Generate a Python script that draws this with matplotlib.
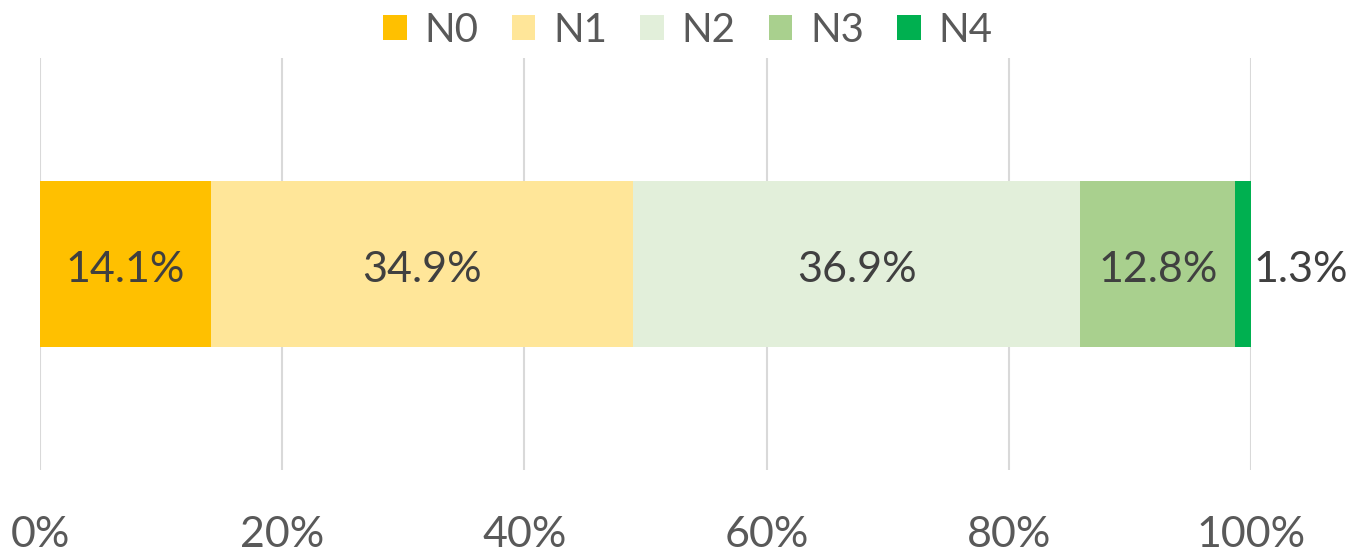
import matplotlib.pyplot as plt
from matplotlib.patches import Patch

categories = ['N0', 'N1', 'N2', 'N3', 'N4']
values = [14.1, 34.9, 36.9, 12.8, 1.3]
colors = ['#FFC000', '#FFE699', '#E2EFDA', '#A9D08E', '#00B050']
ticks = [0, 20, 40, 60, 80, 100]
tick_labels = ['0%', '20%', '40%', '60%', '80%', '100%']

plt.rcParams['font.family'] = ['Lato', 'DejaVu Sans']

fig = plt.figure(figsize=(13.5, 5.52), dpi=100)
ax = fig.add_axes([40 / 1350, 1 - 470 / 552, 1211 / 1350, 412 / 552])

left = 0
for name, v, c in zip(categories, values, colors):
    ax.barh(0, v, left=left, height=0.403, color=c, label=name, zorder=2)
    if v > 5:
        ax.text(left + v / 2, -0.015, f'{v}%', ha='center', va='center',
                fontsize=31, color='#404040')
    else:
        ax.text(left + v + 0.2, -0.015, f'{v}%', ha='left', va='center',
                fontsize=31, color='#404040')
    left += v

ax.set_xlim(0, 100)
ax.set_ylim(-0.5, 0.5)
ax.set_xticks(ticks)
ax.set_xticklabels(tick_labels, fontsize=31, color='#595959')
ax.tick_params(axis='x', length=0, pad=33)
ax.set_yticks([])
ax.grid(axis='x', color='#D9D9D9', linewidth=1.5, zorder=0)
for s in ax.spines.values():
    s.set_visible(False)

handles = [Patch(facecolor=c, label=n) for n, c in zip(categories, colors)]
fig.legend(handles=handles, loc='center', bbox_to_anchor=(688 / 1350, 1 - 30 / 552),
           ncol=5, frameon=False, fontsize=29, labelcolor='#595959',
           handlelength=0.58, handleheight=0.58, handletextpad=0.45,
           columnspacing=0.82)

fig.savefig('out.png', dpi=100)
